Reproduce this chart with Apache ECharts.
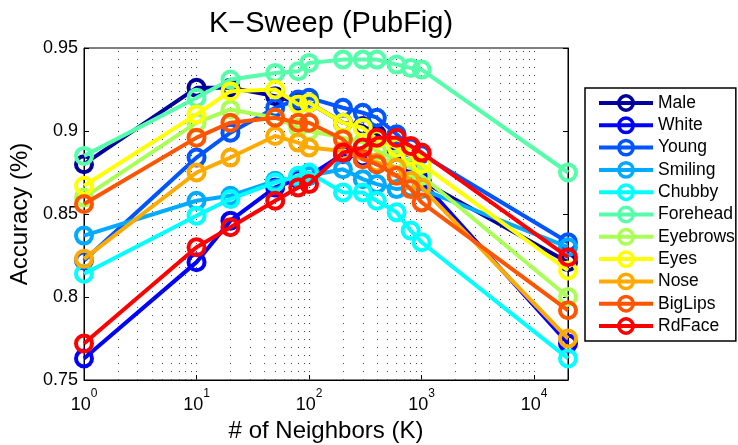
<!DOCTYPE html>
<html>
<head>
<meta charset="utf-8">
<script src="https://cdn.jsdelivr.net/npm/echarts@6/dist/echarts.min.js"></script>
<style>html,body{margin:0;padding:0;background:#fff}#c{width:738px;height:445px}</style>
</head>
<body>
<div id="c"></div>
<script>
const neighbors = [1, 10, 20, 50, 80, 100, 200, 300, 400, 600, 800, 1000, 20000];
const attributes = ['Male','White','Young','Smiling','Chubby','Forehead','Eyebrows','Eyes','Nose','BigLips','RdFace'];
const colors = ['#00009C','#0000FF','#0055FF','#00AAFF','#00FFFF','#55FFAA','#AAFF55','#FFFF00','#FFAA00','#FF5500','#FF0000'];
const male     = [0.880, 0.926, 0.926, 0.921, 0.917, 0.917, 0.905, 0.903, 0.898, 0.888, 0.878, 0.870, 0.821];
const white    = [0.763, 0.821, 0.846, 0.866, 0.871, 0.873, 0.886, 0.884, 0.880, 0.878, 0.875, 0.870, 0.772];
const young    = [0.822, 0.884, 0.899, 0.914, 0.919, 0.920, 0.914, 0.911, 0.908, 0.898, 0.890, 0.886, 0.833];
const smiling  = [0.837, 0.858, 0.861, 0.870, 0.872, 0.873, 0.877, 0.871, 0.868, 0.865, 0.866, 0.865, 0.830];
const chubby   = [0.814, 0.849, 0.859, 0.869, 0.873, 0.875, 0.863, 0.863, 0.858, 0.851, 0.840, 0.833, 0.763];
const forehead = [0.885, 0.920, 0.931, 0.935, 0.936, 0.941, 0.943, 0.943, 0.943, 0.940, 0.938, 0.937, 0.875];
const eyebrows = [0.860, 0.905, 0.913, 0.908, 0.902, 0.900, 0.896, 0.893, 0.888, 0.883, 0.878, 0.873, 0.800];
const eyes     = [0.867, 0.910, 0.924, 0.925, 0.916, 0.917, 0.905, 0.902, 0.895, 0.890, 0.885, 0.880, 0.816];
const nose     = [0.823, 0.875, 0.884, 0.897, 0.893, 0.890, 0.888, 0.883, 0.881, 0.878, 0.870, 0.866, 0.775];
const bigLips  = [0.856, 0.896, 0.905, 0.908, 0.905, 0.905, 0.895, 0.883, 0.880, 0.873, 0.865, 0.857, 0.792];
const rdFace   = [0.772, 0.830, 0.842, 0.858, 0.866, 0.868, 0.887, 0.890, 0.896, 0.896, 0.891, 0.887, 0.824];
const allValues = [male, white, young, smiling, chubby, forehead, eyebrows, eyes, nose, bigLips, rdFace];
const yTicks = [0.75, 0.8, 0.85, 0.9, 0.95];
const minorGrid = [2,3,4,5,6,7,8,9,10,20,30,40,50,60,70,80,90,100,200,300,400,500,600,700,800,900,1000,2000,3000,4000,5000,6000,7000,8000,9000,10000];

const FONT = 'Liberation Sans, Arial, sans-serif';
const chart = echarts.init(document.getElementById('c'), null, {renderer:'canvas'});

const series = attributes.map((name, i) => ({
  name: name,
  type: 'line',
  data: neighbors.map((x, j) => [x, allValues[i][j]]),
  symbol: 'circle',
  symbolSize: 16,
  lineStyle: {color: colors[i], width: 4},
  itemStyle: {color: 'rgba(255,255,255,0)', borderColor: colors[i], borderWidth: 4},
  emphasis: {disabled: true},
  animation: false,
  z: 3 + i
}));
series.unshift({
  name: '_grid',
  type: 'line',
  data: [],
  silent: true,
  markLine: {
    silent: true,
    symbol: 'none',
    label: {show: false},
    lineStyle: {color: '#444', type: [1, 7], width: 1},
    data: minorGrid.map(v => ({xAxis: v}))
  },
  z: 1
});

chart.setOption({
  animation: false,
  backgroundColor: '#fff',
  title: {
    text: 'K\u2212Sweep (PubFig)',
    left: 326, top: 4, textAlign: 'center',
    textStyle: {fontFamily: FONT, fontSize: 29, fontWeight: 'normal', color: '#000'}
  },
  grid: {left: 84, right: 170, top: 48, bottom: 65, show: true, borderColor: '#000', borderWidth: 1,
         backgroundColor: 'transparent', containLabel: false, outerBoundsMode: 'none'},
  legend: {
    data: attributes,
    orient: 'vertical',
    left: 585, top: 88,
    padding: [6, 1, 6, 12],
    itemWidth: 54, itemHeight: 18, itemGap: 4.3,
    borderColor: '#000', borderWidth: 1.5, backgroundColor: '#fff',
    lineStyle: {width: 4},
    itemStyle: {borderWidth: 3.5},
    textStyle: {fontFamily: FONT, fontSize: 17.5, color: '#000'},
    selectedMode: false
  },
  xAxis: {
    type: 'log', logBase: 10, min: 1, max: 20000,
    name: '# of Neighbors (K)', nameLocation: 'middle', nameGap: 36,
    nameTextStyle: {fontFamily: FONT, fontSize: 24, color: '#000'},
    axisLine: {lineStyle: {color: '#000', width: 1}},
    axisTick: {inside: true, length: 5, lineStyle: {color: '#000'}},
    splitLine: {show: false},
    axisLabel: {
      showMaxLabel: false, margin: 8, color: '#000',
      formatter: v => '{b|10}{s|' + Math.round(Math.log10(v)) + '}',
      rich: {
        b: {fontFamily: FONT, fontSize: 18, color: '#000', verticalAlign: 'bottom', lineHeight: 26},
        s: {fontFamily: FONT, fontSize: 12, color: '#000', verticalAlign: 'top', lineHeight: 26}
      }
    }
  },
  yAxis: [{
    type: 'value', min: 0.75, max: 0.95, interval: 0.05,
    name: 'Accuracy (%)', nameLocation: 'middle', nameGap: 47, nameRotate: 90,
    nameTextStyle: {fontFamily: FONT, fontSize: 24, color: '#000'},
    axisLine: {show: true, lineStyle: {color: '#000'}},
    axisTick: {show: true, inside: true, length: 5, lineStyle: {color: '#000'}},
    splitLine: {show: false},
    axisLabel: {fontFamily: FONT, fontSize: 18, color: '#000', margin: 6,
      formatter: v => { const t = yTicks.find(y => Math.abs(y - v) < 1e-9); return t === undefined ? '' : String(t); }}
  }, {
    type: 'value', min: 0.75, max: 0.95, interval: 0.05, position: 'right',
    axisLine: {show: true, lineStyle: {color: '#000'}},
    axisTick: {show: true, inside: true, length: 5, lineStyle: {color: '#000'}},
    axisLabel: {show: false}, splitLine: {show: false}
  }],
  series: series
});
</script>
</body>
</html>
